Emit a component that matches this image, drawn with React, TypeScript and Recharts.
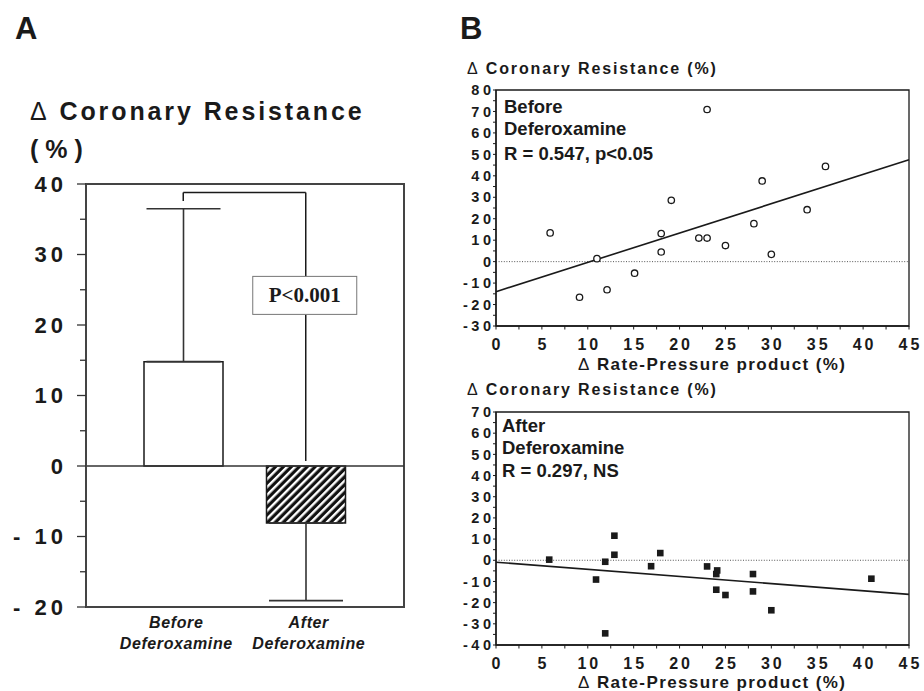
import React from 'react'
import {
  ComposedChart,
  Bar,
  Cell,
  ErrorBar,
  XAxis,
  YAxis,
  ReferenceLine,
  ReferenceArea,
  ReferenceDot,
  ScatterChart,
  Scatter,
} from 'recharts'

// Panel A: mean change with one-sided SD bars
const groups = ['Before', 'After']
const groupLines = [
  ['Before', 'Deferoxamine'],
  ['After', 'Deferoxamine'],
]
const labelShift = [-7, 3]
const meanChange = [14.8, -8.1]
const errUp = [21.7, 0]
const errDown = [0, 11.0]
const barTicks = [-20, -15, -10, -5, 0, 5, 10, 15, 20, 25, 30, 35, 40]
const bracketY = 38.8
const bracketLeftEnd = 37.6
const bracketRightEnd = 0.7
const pBoxTop = 26.9
const pBoxBottom = 21.5
const pBoxMid = 24.2

// Panel B: coronary resistance vs rate-pressure product
const beforeRpp = [5.9, 11.0, 9.1, 12.1, 15.1, 18.0, 18.0, 19.1, 22.1, 23.0, 23.0, 25.0, 28.1, 29.0, 30.0, 33.9, 35.9]
const beforeCr = [13.4, 1.4, -16.6, -13.1, -5.4, 13.1, 4.5, 28.6, 11.0, 11.0, 70.9, 7.5, 17.7, 37.6, 3.4, 24.2, 44.4]
const beforeFit = [
  [0, -14.0],
  [45, 47.5],
]
const afterRpp = [5.8, 10.9, 11.9, 11.9, 12.9, 12.9, 16.9, 17.9, 23.0, 24.0, 24.1, 24.0, 25.0, 28.0, 28.0, 30.0, 40.9]
const afterCr = [0.3, -9.1, -0.7, -34.5, 11.6, 2.6, -2.8, 3.4, -2.9, -6.5, -4.8, -13.9, -16.4, -6.5, -14.7, -23.6, -8.7]
const afterFit = [
  [0, -0.9],
  [45, -16.1],
]
const rppTicks = [0, 2.5, 5, 7.5, 10, 12.5, 15, 17.5, 20, 22.5, 25, 27.5, 30, 32.5, 35, 37.5, 40, 42.5, 45]
const beforeCrTicks = [-30, -25, -20, -15, -10, -5, 0, 5, 10, 15, 20, 25, 30, 35, 40, 45, 50, 55, 60, 65, 70, 75, 80]
const afterCrTicks = [-40, -35, -30, -25, -20, -15, -10, -5, 0, 5, 10, 15, 20, 25, 30, 35, 40, 45, 50, 55, 60, 65, 70]

const SANS = '"Liberation Sans", Arial, Helvetica, sans-serif'
const SERIF = '"Liberation Serif", "Times New Roman", serif'
const INK = '#1a1a1a'
const FRAME = '#444'

const barData = groups.map((g, i) => ({
  name: g,
  value: meanChange[i],
  err: [errDown[i], errUp[i]],
}))

function BarYTick(props: any) {
  const { x, y, payload } = props
  const v = payload.value
  const major = v % 10 === 0
  const label = v < 0 ? `- ${-v}` : `${v}`
  return (
    <g>
      <line x1={x - (major ? 9 : 6)} x2={x} y1={y} y2={y} stroke="#333" strokeWidth={1.3} />
      {major && (
        <text
          x={x - 23 + 4}
          y={y}
          dy={7.8}
          textAnchor="end"
          fontFamily={SANS}
          fontWeight="bold"
          fontSize={22}
          letterSpacing={4}
          fill={INK}
        >
          {label}
        </text>
      )}
    </g>
  )
}

function GroupTick(props: any) {
  const { x, y, payload } = props
  const idx = groups.indexOf(payload.value)
  const lines = groupLines[idx] || ['', '']
  const cx = x + (labelShift[idx] || 0)
  return (
    <text
      x={cx}
      y={y}
      textAnchor="middle"
      fontFamily={SANS}
      fontStyle="italic"
      fontWeight="bold"
      fontSize={16}
      letterSpacing={0.6}
      fill={INK}
    >
      <tspan x={cx} dy={21}>
        {lines[0]}
      </tspan>
      <tspan x={cx} dy={21}>
        {lines[1]}
      </tspan>
    </text>
  )
}

function PBox(props: any) {
  const { cx, cy } = props
  return (
    <g>
      <rect x={cx - 53} y={cy - 19} width={104} height={38} fill="#fff" stroke="#777" strokeWidth={1} />
      <text
        x={cx - 1}
        y={cy}
        dy={7}
        textAnchor="middle"
        fontFamily={SERIF}
        fontWeight="bold"
        fontSize={21}
        fill={INK}
      >
        P&lt;0.001
      </text>
    </g>
  )
}

function ScatterYTick(props: any) {
  const { x, y, payload } = props
  const v = payload.value
  const major = v % 10 === 0
  return (
    <g>
      <line x1={x - 3} x2={x} y1={y} y2={y} stroke={INK} strokeWidth={1} />
      {major && (
        <text
          x={x - 5 + 3.5}
          y={y}
          dy={5.2}
          textAnchor="end"
          fontFamily={SANS}
          fontWeight="bold"
          fontSize={14.5}
          letterSpacing={3.5}
          fill={INK}
        >
          {v}
        </text>
      )}
    </g>
  )
}

function ScatterXTick(props: any) {
  const { x, y, payload } = props
  const v = payload.value
  const major = v % 5 === 0
  return (
    <g>
      <line x1={x} x2={x} y1={y} y2={y + 3.5} stroke={INK} strokeWidth={1} />
      {major && (
        <text
          x={x + 1.5}
          y={y + 24}
          textAnchor="middle"
          fontFamily={SANS}
          fontWeight="bold"
          fontSize={16}
          letterSpacing={3}
          fill={INK}
        >
          {v}
        </text>
      )}
    </g>
  )
}

const OpenCircle = (p: any) => (
  <circle cx={p.cx} cy={p.cy} r={3.2} fill="#fff" stroke={INK} strokeWidth={1.3} />
)
const FilledSquare = (p: any) => (
  <rect x={p.cx - 3.3} y={p.cy - 3.3} width={6.6} height={6.6} fill={INK} />
)

interface ScatterPanelProps {
  xs: number[]
  ys: number[]
  fit: number[][]
  yTicks: number[]
  shape: (p: any) => React.ReactElement
  width: number
  height: number
  margin: { top: number; right: number; bottom: number; left: number }
}

function ScatterPanel({ xs, ys, fit, yTicks, shape, width, height, margin }: ScatterPanelProps) {
  const pts = xs.map((x, i) => ({ x, y: ys[i] }))
  const yMin = yTicks[0]
  const yMax = yTicks[yTicks.length - 1]
  return (
    <ScatterChart width={width} height={height} margin={margin}>
      <XAxis
        type="number"
        dataKey="x"
        domain={[0, 45]}
        ticks={rppTicks}
        interval={0}
        tickSize={0}
        tickMargin={0}
        height={40}
        tick={<ScatterXTick />}
        tickLine={false}
        axisLine={{ stroke: INK, strokeWidth: 1.3 }}
      />
      <YAxis
        type="number"
        dataKey="y"
        domain={[yMin, yMax]}
        ticks={yTicks}
        interval={0}
        tickSize={0}
        tickMargin={0}
        width={36}
        tick={<ScatterYTick />}
        tickLine={false}
        axisLine={{ stroke: INK, strokeWidth: 1.3 }}
      />
      <ReferenceArea x1={0} x2={45} y1={yMin} y2={yMax} fill="none" stroke={INK} strokeWidth={1.3} />
      <ReferenceLine y={0} stroke="#555" strokeWidth={1} strokeDasharray="1 1.6" />
      <ReferenceLine
        segment={[
          { x: fit[0][0], y: fit[0][1] },
          { x: fit[1][0], y: fit[1][1] },
        ]}
        stroke={INK}
        strokeWidth={1.6}
      />
      <Scatter data={pts} shape={shape} isAnimationActive={false} />
    </ScatterChart>
  )
}

export default function App() {
  return (
    <div style={{ position: 'absolute', left: 0, top: 0, width: 924, height: 691, background: '#fff' }}>
      <div style={{ position: 'absolute', left: 0, top: 0 }}>
        <ComposedChart
          width={460}
          height={691}
          data={barData}
          margin={{ top: 184, right: 56, bottom: 24, left: 26 }}
        >
          <defs>
            <pattern id="hatch" patternUnits="userSpaceOnUse" width={5.6} height={5.6} patternTransform="rotate(45)">
              <rect width={5.6} height={5.6} fill="#111" />
              <rect x={0} y={0} width={2.4} height={5.6} fill="#fff" />
            </pattern>
          </defs>
          <XAxis
            dataKey="name"
            type="category"
            padding={{ left: 36, right: 37 }}
            height={60}
            tickSize={0}
            tickMargin={0}
            tickLine={false}
            tick={<GroupTick />}
            axisLine={{ stroke: FRAME, strokeWidth: 2 }}
          />
          <XAxis xAxisId="frame" type="number" domain={[0, 1]} hide />
          <YAxis
            domain={[-20, 40]}
            ticks={barTicks}
            interval={0}
            width={60}
            tickSize={0}
            tickMargin={0}
            tickLine={false}
            tick={<BarYTick />}
            axisLine={{ stroke: FRAME, strokeWidth: 2 }}
          />
          <ReferenceArea
            xAxisId="frame"
            x1={0}
            x2={1}
            y1={-20}
            y2={40}
            fill="none"
            stroke={FRAME}
            strokeWidth={2}
          />
          <ReferenceLine y={0} stroke="#333" strokeWidth={1.5} />
          <Bar dataKey="value" barSize={79} stroke={INK} strokeWidth={1.5} isAnimationActive={false}>
            {barData.map((d, i) => (
              <Cell key={d.name} fill={i === 0 ? '#fff' : 'url(#hatch)'} />
            ))}
            <ErrorBar dataKey="err" width={37} stroke="#333" strokeWidth={1.6} isAnimationActive={false} />
          </Bar>
          <ReferenceLine
            segment={[
              { x: 'Before', y: bracketY },
              { x: 'After', y: bracketY },
            ]}
            stroke={INK}
            strokeWidth={1.5}
          />
          <ReferenceLine
            segment={[
              { x: 'Before', y: bracketY },
              { x: 'Before', y: bracketLeftEnd },
            ]}
            stroke={INK}
            strokeWidth={1.5}
          />
          <ReferenceLine
            segment={[
              { x: 'After', y: bracketY },
              { x: 'After', y: pBoxTop },
            ]}
            stroke={INK}
            strokeWidth={1.5}
          />
          <ReferenceLine
            segment={[
              { x: 'After', y: pBoxBottom },
              { x: 'After', y: bracketRightEnd },
            ]}
            stroke={INK}
            strokeWidth={1.5}
          />
          <ReferenceDot x="After" y={pBoxMid} shape={<PBox />} />
        </ComposedChart>
      </div>

      <div style={{ position: 'absolute', left: 460, top: 0 }}>
        <ScatterPanel
          xs={beforeRpp}
          ys={beforeCr}
          fit={beforeFit}
          yTicks={beforeCrTicks}
          shape={OpenCircle}
          width={464}
          height={380}
          margin={{ top: 90, right: 15, bottom: 14, left: 0 }}
        />
      </div>
      <div style={{ position: 'absolute', left: 460, top: 380 }}>
        <ScatterPanel
          xs={afterRpp}
          ys={afterCr}
          fit={afterFit}
          yTicks={afterCrTicks}
          shape={FilledSquare}
          width={464}
          height={311}
          margin={{ top: 32, right: 15, bottom: 6, left: 0 }}
        />
      </div>

      <svg
        width={924}
        height={691}
        style={{ position: 'absolute', left: 0, top: 0, pointerEvents: 'none' }}
        fontFamily={SANS}
        fill={INK}
        fontWeight="bold"
      >
        <text x={15} y={39} fontSize={31}>A</text>
        <text x={460} y={39} fontSize={31}>B</text>

        <text x={30} y={120} fontSize={25} letterSpacing={2.9}>
          <tspan fontWeight="normal">Δ</tspan> Coronary Resistance
        </text>
        <text x={30} y={158} fontSize={25} letterSpacing={7}>(%)</text>

        <text x={467} y={74} fontSize={16} letterSpacing={1.85}>
          <tspan fontWeight="normal">Δ</tspan> Coronary Resistance  (%)
        </text>
        <text x={504} y={113} fontSize={18.5}>Before</text>
        <text x={504} y={135} fontSize={18.5}>Deferoxamine</text>
        <text x={504} y={160} fontSize={18.5}>R = 0.547, p&lt;0.05</text>
        <text x={578} y={370} fontSize={17} letterSpacing={1.4}>
          <tspan fontWeight="normal">Δ</tspan> Rate-Pressure product  (%)
        </text>

        <text x={467} y={395} fontSize={16} letterSpacing={1.85}>
          <tspan fontWeight="normal">Δ</tspan> Coronary Resistance  (%)
        </text>
        <text x={502} y={432} fontSize={18.5}>After</text>
        <text x={502} y={454} fontSize={18.5}>Deferoxamine</text>
        <text x={502} y={477} fontSize={18.5}>R = 0.297, NS</text>
        <text x={578} y={688} fontSize={17} letterSpacing={1.4}>
          <tspan fontWeight="normal">Δ</tspan> Rate-Pressure product  (%)
        </text>
      </svg>
    </div>
  )
}
